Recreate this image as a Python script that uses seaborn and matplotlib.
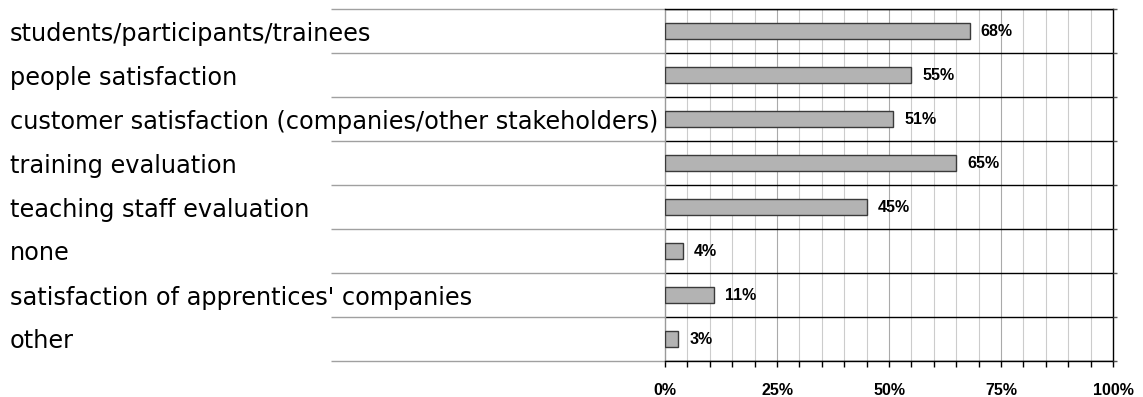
import matplotlib
matplotlib.use("Agg")
import matplotlib.pyplot as plt
import matplotlib.transforms as mtransforms
from matplotlib import font_manager as fm
import seaborn as sns
import pandas as pd
import numpy as np

categories = [
    "students/participants/trainees",
    "people satisfaction",
    "customer satisfaction (companies/other stakeholders)",
    "training evaluation",
    "teaching staff evaluation",
    "none",
    "satisfaction of apprentices' companies",
    "other",
]
values = [68, 55, 51, 65, 45, 4, 11, 3]
xtick_values = [0, 25, 50, 75, 100]
xtick_labels = ["0%", "25%", "50%", "75%", "100%"]

sns.set_theme(style="white")
plt.rcParams["font.family"] = ["Liberation Sans", "DejaVu Sans"]
plt.rcParams["text.color"] = "black"
plt.rcParams["xtick.color"] = "black"
plt.rcParams["ytick.color"] = "black"


def bold_font(size):
    """Regular-width Liberation Sans Bold (avoid the Narrow variant)."""
    for f in fm.fontManager.ttflist:
        if (f.name == "Liberation Sans" and f.weight in (700, "bold")
                and f.style == "normal" and "Narrow" not in f.fname):
            return fm.FontProperties(fname=f.fname, size=size)
    return fm.FontProperties(family="DejaVu Sans", weight="bold", size=size)


W, H = 1143, 397
fig = plt.figure(figsize=(W / 100, H / 100), dpi=100)
x0, x1, y0, y1 = 665, 1113, 9, 361
ax = fig.add_axes([x0 / W, 1 - y1 / H, (x1 - x0) / W, (y1 - y0) / H])

df = pd.DataFrame({"category": categories, "value": values})
sns.barplot(data=df, x="value", y="category", orient="h", ax=ax,
            color="#b3b3b3", edgecolor="#3a3a3a", linewidth=1.0,
            width=0.35, saturation=1, zorder=3)

ax.set_xlim(0, 100)
ax.set_ylim(len(categories) - 0.5, -0.5)
ax.set_xlabel("")
ax.set_ylabel("")

# vertical grid every 5%
for v in range(5, 100, 5):
    ax.axvline(v, color="#cccccc" if v % 25 else "#aaaaaa", lw=0.8, zorder=1)

# row separators: black inside the plot, gray extending to the left
bounds = np.arange(len(categories) + 1) - 0.5
ax.hlines(bounds, 0, 100, color="black", lw=1.0, zorder=2)
trans = mtransforms.blended_transform_factory(ax.transAxes, ax.transData)
left_ext = -(x0 - 331) / (x1 - x0)
ax.hlines(bounds, left_ext, 0, transform=trans, color="#a0a0a0", lw=1.0,
          clip_on=False, zorder=2)

# spines
for s in ["top", "right", "bottom"]:
    ax.spines[s].set_color("black")
    ax.spines[s].set_linewidth(1.0)
ax.spines["left"].set_color("#9a9a9a")
ax.spines["left"].set_linewidth(1.0)

# x ticks
tick_fp = bold_font(11.5)
ax.set_xticks(xtick_values)
ax.set_xticklabels(xtick_labels, fontproperties=tick_fp, color="black")
ax.set_xticks(range(0, 101, 5), minor=True)
ax.tick_params(axis="x", which="both", direction="out", length=4, width=1,
               color="black", bottom=True, pad=12)

# category labels, left aligned near figure edge
ax.set_yticks(range(len(categories)))
ax.set_yticklabels(categories, fontsize=17.3, family=["DejaVu Sans"],
                   color="black")
for lbl in ax.get_yticklabels():
    lbl.set_horizontalalignment("left")
ax.tick_params(axis="y", which="both", left=False, length=0,
               pad=(x0 - 10) * 0.72)

# small ticks on the right spine at row boundaries
ax2 = ax.twinx()
ax2.set_ylim(ax.get_ylim())
ax2.set_yticks(bounds)
ax2.set_yticklabels([])
ax2.tick_params(axis="y", left=False, right=True, direction="out", length=3,
                width=1, color="#555555")
for s in ax2.spines.values():
    s.set_visible(False)

# value labels
val_fp = bold_font(11.5)
for i, v in enumerate(values):
    ax.text(v + 2.4, i, f"{v}%", va="center", ha="left",
            fontproperties=val_fp, color="black", zorder=4)

fig.savefig("out.png", dpi=100, facecolor="white")
